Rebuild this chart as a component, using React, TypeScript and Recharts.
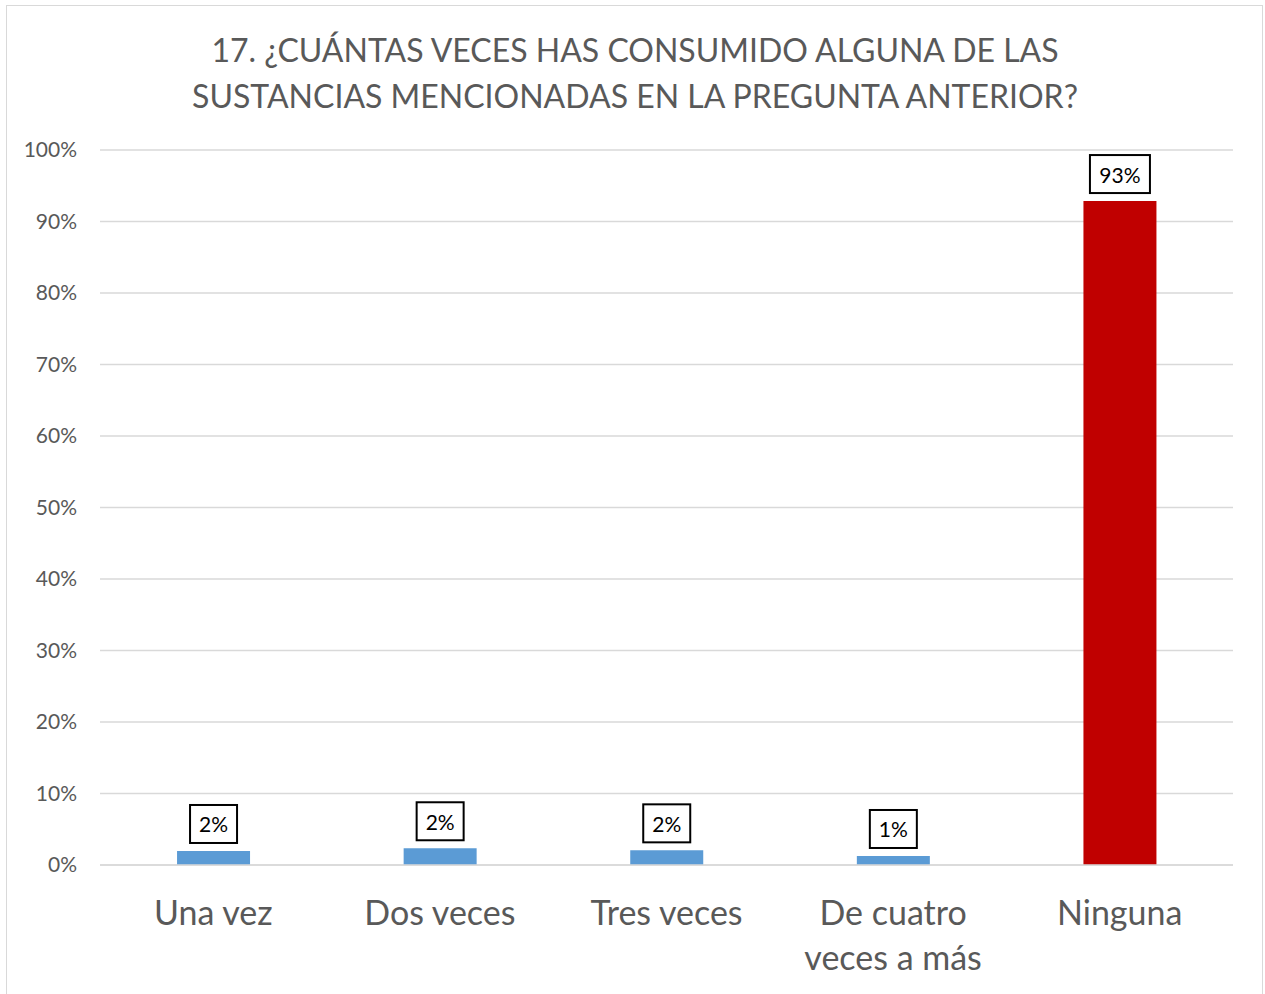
import React from "react";
import {
  BarChart,
  Bar,
  XAxis,
  YAxis,
  CartesianGrid,
  Cell,
  LabelList,
} from "recharts";

const categories = [
  "Una vez",
  "Dos veces",
  "Tres veces",
  "De cuatro veces a más",
  "Ninguna",
];
const percentages = [1.96, 2.34, 2.05, 1.26, 92.86];
const barColors = ["#5b9bd5", "#5b9bd5", "#5b9bd5", "#5b9bd5", "#c00000"];
const yTicks = [0, 10, 20, 30, 40, 50, 60, 70, 80, 90, 100];
const titleLines = [
  "17. ¿CUÁNTAS VECES HAS CONSUMIDO ALGUNA DE LAS",
  "SUSTANCIAS MENCIONADAS EN LA PREGUNTA ANTERIOR?",
];

const data = categories.map((name, i) => ({
  name,
  value: percentages[i],
  color: barColors[i],
}));

const FONT = "Lato, 'Open Sans', sans-serif";
const GREY = "#595959";

// greedy word wrap by character count
const wrap = (label: string, maxChars: number) => {
  const lines: string[] = [];
  let cur = "";
  for (const w of label.split(" ")) {
    const next = cur ? `${cur} ${w}` : w;
    if (next.length > maxChars && cur) {
      lines.push(cur);
      cur = w;
    } else {
      cur = next;
    }
  }
  if (cur) lines.push(cur);
  return lines;
};

const CategoryTick = (props: any) => {
  const { x, y, payload } = props;
  const lines = wrap(payload.value, 12);
  return (
    <text
      x={x}
      y={y}
      textAnchor="middle"
      fontFamily={FONT}
      fontSize={34}
      fill={GREY}
    >
      {lines.map((l, i) => (
        <tspan key={i} x={x} dy={i === 0 ? 24 : 45}>
          {l}
        </tspan>
      ))}
    </text>
  );
};

// boxed data label above each bar
const BoxLabel = (props: any) => {
  const { x, y, width, value } = props;
  const text = `${Math.round(value)}%`;
  const boxW = 21 + text.length * 13;
  const boxH = 38;
  const cx = x + width / 2;
  const bottom = y - 8;
  return (
    <g>
      <rect
        x={cx - boxW / 2}
        y={bottom - boxH}
        width={boxW}
        height={boxH}
        fill="#fff"
        stroke="#000"
        strokeWidth={2}
      />
      <text
        x={cx}
        y={bottom - boxH / 2}
        textAnchor="middle"
        dominantBaseline="central"
        fontFamily={FONT}
        fontSize={21}
        fill="#000"
      >
        {text}
      </text>
    </g>
  );
};

export default function App() {
  return (
    <div
      style={{
        position: "absolute",
        left: 0,
        top: 0,
        width: 1265,
        height: 994,
        background: "#fff",
        overflow: "hidden",
      }}
    >
      <style>{`body{margin:0}`}</style>
      <div
        style={{
          position: "absolute",
          left: 6,
          top: 5,
          width: 1257,
          height: 1010,
          border: "1.5px solid #d9d9d9",
          boxSizing: "border-box",
        }}
      />
      {titleLines.map((line, i) => (
        <div
          key={i}
          style={{
            position: "absolute",
            left: 0,
            width: 1270,
            top: 31 + i * 46,
            textAlign: "center",
            fontFamily: FONT,
            fontSize: 32,
            lineHeight: "38px",
            color: GREY,
            whiteSpace: "nowrap",
          }}
        >
          {line}
        </div>
      ))}
      <div style={{ position: "absolute", left: 0, top: 0 }}>
        <BarChart
          width={1265}
          height={994}
          data={data}
          margin={{ top: 150, right: 32, bottom: 29, left: 20 }}
          barCategoryGap="34%"
        >
          <CartesianGrid
            vertical={false}
            stroke="#d9d9d9"
            strokeWidth={1.5}
          />
          <XAxis
            dataKey="name"
            height={100}
            axisLine={{ stroke: "#d9d9d9", strokeWidth: 1.5 }}
            tickLine={false}
            tickMargin={30}
            interval={0}
            tick={<CategoryTick />}
          />
          <YAxis
            width={80}
            domain={[0, 100]}
            ticks={yTicks}
            axisLine={false}
            tickLine={false}
            tickMargin={17}
            tickFormatter={(v: number) => `${v}%`}
            tick={{ fill: GREY, fontSize: 21, fontFamily: FONT }}
          />
          <Bar dataKey="value" isAnimationActive={false}>
            {data.map((d, i) => (
              <Cell key={`cell-${i}`} fill={d.color} />
            ))}
            <LabelList dataKey="value" content={<BoxLabel />} />
          </Bar>
        </BarChart>
      </div>
    </div>
  );
}
